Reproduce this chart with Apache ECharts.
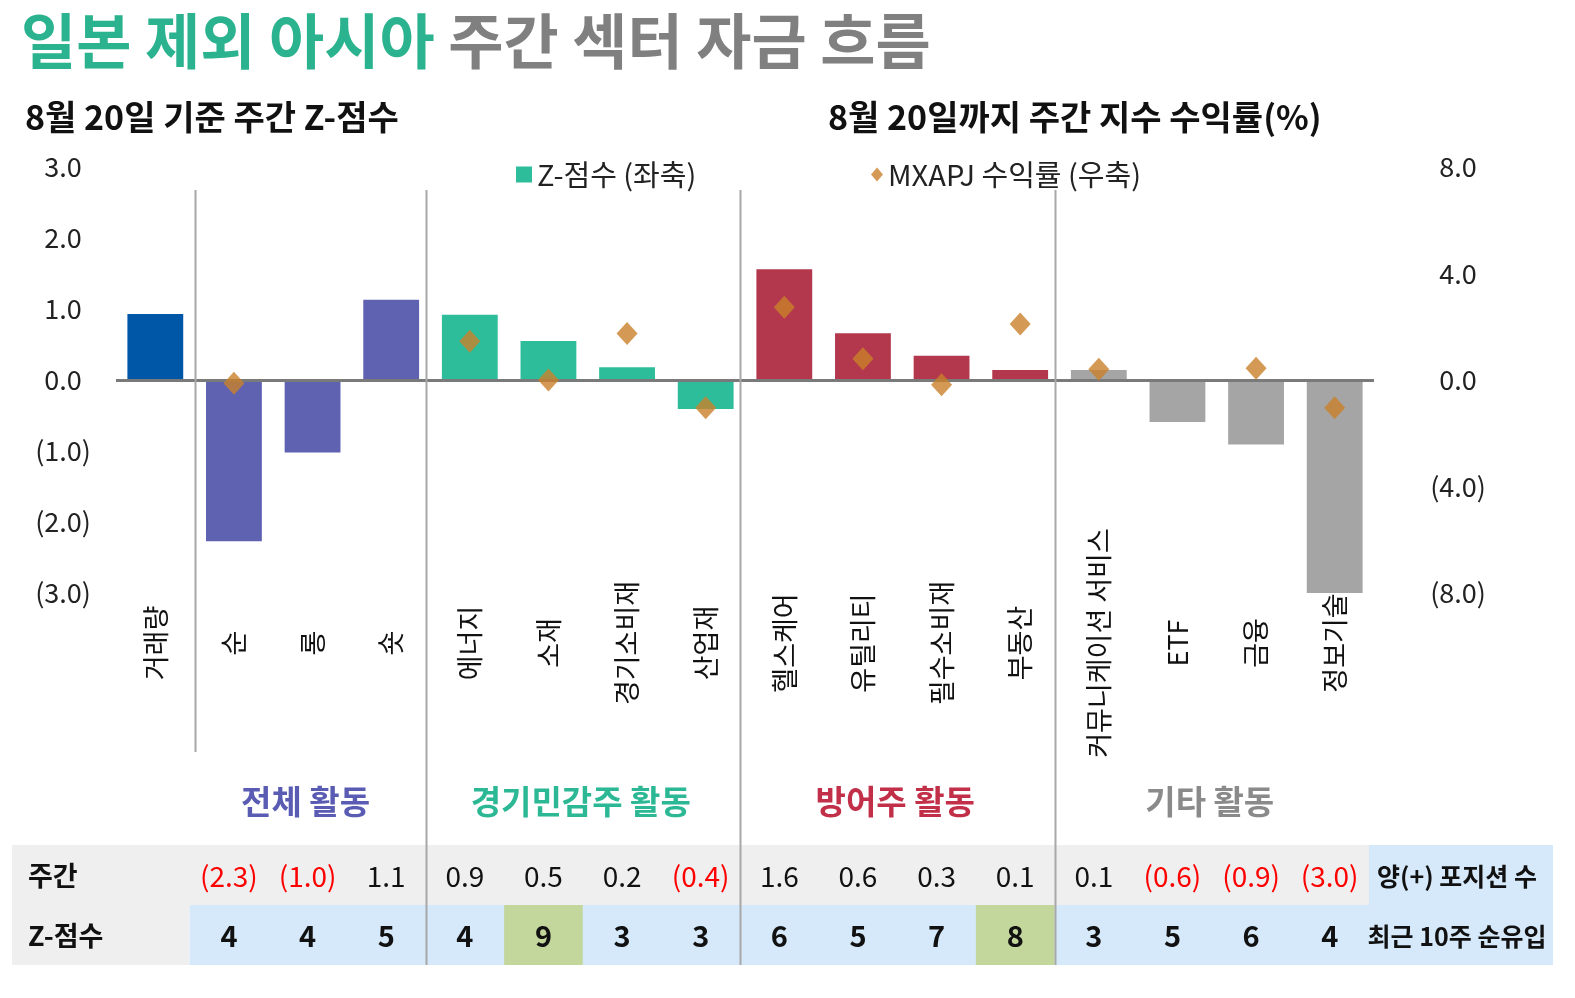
<!DOCTYPE html>
<html><head><meta charset="utf-8">
<script src="https://cdn.jsdelivr.net/npm/echarts@6/dist/echarts.min.js"></script>
<style>html,body{margin:0;padding:0;background:#fff}#c{width:1575px;height:998px}</style>
</head><body><div id="c"></div>
<script>
// ---------- data ----------
const categories = ['거래량','순','롱','숏','에너지','소재','경기소비재','산업재','헬스케어','유틸리티','필수소비재','부동산','커뮤니케이션 서비스','ETF','금융','정보기술'];
const groupOf = [0,1,1,1,2,2,2,2,3,3,3,3,4,4,4,4];
const groupNames = ['', '전체 활동', '경기민감주 활동', '방어주 활동', '기타 활동'];
const zScore = [0.93,-2.27,-1.02,1.13,0.92,0.55,0.18,-0.41,1.56,0.66,0.34,0.14,0.14,-0.59,-0.91,-3.0];
const mxapjReturn = [null,-0.12,null,null,1.46,0.0,1.75,-1.04,2.73,0.80,-0.18,2.10,0.40,null,0.44,-1.04];
const weeklyZ = [null,-2.3,-1.0,1.1,0.9,0.5,0.2,-0.4,1.6,0.6,0.3,0.1,0.1,-0.6,-0.9,-3.0];
const positiveWeeks = [null,4,4,5,4,9,3,3,6,5,7,8,3,5,6,4];
const highlightIdx = [5, 11];
const leftTicks = [-3,-2,-1,0,1,2,3];
const rightTicks = [-8,-4,0,4,8];
const tableRowLabels = ['주간', 'Z-점수'];
const tableSideLabels = ['양(+) 포지션 수', '최근 10주 순유입'];
const legendNames = ['Z-점수 (좌축)', 'MXAPJ 수익률 (우축)'];

// ---------- style ----------
const FONT = '"Noto Sans CJK KR", "Noto Sans", sans-serif';
const groupColors = ['#0057A8', '#5F62B1', '#2DBD9B', '#B3384E', '#A5A5A5'];
const groupLabelColors = ['#000', '#5A5CB4', '#2CB894', '#C22F48', '#8A8A8A'];
const fmt = v => v < 0 ? '(' + Math.abs(v).toFixed(1) + ')' : v.toFixed(1);

const chart = echarts.init(document.getElementById('c'));

const option = {
  animation: false,
  backgroundColor: '#fff',
  textStyle: { fontFamily: FONT },
  title: [
    { text: '{a|일본 제외 아시아 }{b|주간 섹터 자금 흐름}', left: 16, top: 6,
      textStyle: { rich: {
        a: { fontSize: 60, fontWeight: 'bold', color: '#2BB28E', fontFamily: FONT },
        b: { fontSize: 60, fontWeight: 'bold', color: '#808080', fontFamily: FONT } } } },
    { text: '8월 20일 기준 주간 Z-점수', left: 20, top: 95,
      textStyle: { fontSize: 34, fontWeight: 'bold', color: '#111', fontFamily: FONT } },
    { text: '8월 20일까지 주간 지수 수익률(%)', left: 823, top: 95,
      textStyle: { fontSize: 34, fontWeight: 'bold', color: '#111', fontFamily: FONT } }
  ],
  legend: [
    { data: [legendNames[0]], left: 511, top: 155, icon: 'rect', itemWidth: 16, itemHeight: 16,
      textStyle: { fontSize: 29, color: '#222', fontFamily: FONT } },
    { data: [legendNames[1]], left: 866, top: 155, icon: 'diamond', itemWidth: 12, itemHeight: 14,
      textStyle: { fontSize: 29, color: '#222', fontFamily: FONT } }
  ],
  grid: { left: 116, right: 201, top: 167, bottom: 405 },
  xAxis: {
    type: 'category', data: categories,
    axisLine: { show: false }, axisTick: { show: false }, splitLine: { show: false },
    axisLabel: { interval: 0, rotate: 90, align: 'center', verticalAlign: 'middle', margin: 50,
      fontSize: 27, color: '#111', fontFamily: FONT }
  },
  yAxis: [
    { type: 'value', min: leftTicks[0], max: leftTicks[leftTicks.length - 1], interval: leftTicks[1] - leftTicks[0],
      axisLine: { show: false }, axisTick: { show: false }, splitLine: { show: false },
      axisLabel: { formatter: fmt, fontSize: 27, color: '#222', align: 'center', margin: 53, fontFamily: FONT } },
    { type: 'value', position: 'right', min: rightTicks[0], max: rightTicks[rightTicks.length - 1], interval: rightTicks[1] - rightTicks[0],
      axisLine: { show: false }, axisTick: { show: false }, splitLine: { show: false },
      axisLabel: { formatter: fmt, fontSize: 27, color: '#222', align: 'center', margin: 84, fontFamily: FONT } }
  ],
  series: [
    { name: legendNames[0], type: 'bar', barWidth: '71%', yAxisIndex: 0,
      itemStyle: { color: groupColors[2] },
      data: zScore.map((v, i) => ({ value: v, itemStyle: { color: groupColors[groupOf[i]] } })),
      markLine: { silent: true, symbol: 'none', label: { show: false },
        lineStyle: { color: '#7A7A7A', width: 3, type: 'solid' }, data: [{ yAxis: 0 }] }
    },
    { name: legendNames[1], type: 'scatter', yAxisIndex: 1, symbol: 'diamond', symbolSize: [21, 23], z: 5,
      itemStyle: { color: '#C9812A' },
      data: mxapjReturn.map(v => v === null ? '-' : v) }
  ]
};
chart.setOption(option);

// ---------- decorations from axis positions ----------
const xs = categories.map((c, i) => chart.convertToPixel({ xAxisIndex: 0 }, i));
const bw = xs[1] - xs[0];
const yTop = chart.convertToPixel({ yAxisIndex: 0 }, leftTicks[leftTicks.length - 1]);
const DX = -5;
const row1Top = 845, rowH = 60, row2Top = row1Top + rowH, tableBottom = row2Top + rowH;
const tableLeft = 12, tableRight = 1553;
const colStart = i => xs[i] - bw / 2 + DX;
const colEnd = i => xs[i] + bw / 2 + DX;
const g = [];
// table backgrounds
g.push({ type: 'rect', z: 1, shape: { x: tableLeft, y: row1Top, width: colEnd(15) - tableLeft, height: rowH }, style: { fill: '#EFEFEF' } });
g.push({ type: 'rect', z: 1, shape: { x: colEnd(15), y: row1Top, width: tableRight - colEnd(15), height: rowH }, style: { fill: '#D5E9FA' } });
g.push({ type: 'rect', z: 1, shape: { x: tableLeft, y: row2Top, width: colStart(1) - tableLeft, height: rowH }, style: { fill: '#EFEFEF' } });
g.push({ type: 'rect', z: 1, shape: { x: colStart(1), y: row2Top, width: tableRight - colStart(1), height: rowH }, style: { fill: '#D5E9FA' } });
highlightIdx.forEach(i => g.push({ type: 'rect', z: 2, shape: { x: colStart(i), y: row2Top, width: bw, height: rowH }, style: { fill: '#C3D79C' } }));
// separators
const sepIdx = [];
for (let i = 1; i < categories.length; i++) if (groupOf[i] !== groupOf[i - 1]) sepIdx.push(i);
sepIdx.forEach((i, k) => {
  const first = k === 0;
  const x = Math.round(first ? xs[i] - bw / 2 : colStart(i)) + 0.5;
  g.push({ type: 'line', z: 5, shape: { x1: x, y1: yTop + 23, x2: x, y2: first ? 752 : tableBottom }, style: { stroke: '#A8A8A8', lineWidth: 2 } });
});
// group labels
for (let gi = 1; gi < groupNames.length; gi++) {
  const idx = groupOf.map((gg, i) => gg === gi ? i : -1).filter(i => i >= 0);
  const cx = idx.reduce((s, i) => s + xs[i], 0) / idx.length - 7;
  g.push({ type: 'text', z: 10, x: cx, y: 801, style: { text: groupNames[gi], fill: groupLabelColors[gi], font: 'bold 33px ' + FONT, textAlign: 'center', textVerticalAlign: 'middle' } });
}
// table texts
const r1y = row1Top + rowH / 2 + 1, r2y = row2Top + rowH / 2 + 1;
g.push({ type: 'text', z: 10, x: 28, y: r1y, style: { text: tableRowLabels[0], fill: '#111', font: 'bold 27px ' + FONT, textAlign: 'left', textVerticalAlign: 'middle' } });
g.push({ type: 'text', z: 10, x: 28, y: r2y, style: { text: tableRowLabels[1], fill: '#111', font: 'bold 27px ' + FONT, textAlign: 'left', textVerticalAlign: 'middle' } });
const sideX = (colEnd(15) + tableRight) / 2 - 4;
g.push({ type: 'text', z: 10, x: sideX, y: r1y, style: { text: tableSideLabels[0], fill: '#111', font: 'bold 25px ' + FONT, textAlign: 'center', textVerticalAlign: 'middle' } });
g.push({ type: 'text', z: 10, x: sideX, y: r2y, style: { text: tableSideLabels[1], fill: '#111', font: 'bold 25px ' + FONT, textAlign: 'center', textVerticalAlign: 'middle' } });
categories.forEach((c, i) => {
  if (weeklyZ[i] !== null) {
    g.push({ type: 'text', z: 10, x: xs[i] + DX, y: r1y, style: { text: fmt(weeklyZ[i]), fill: weeklyZ[i] < 0 ? '#FF0000' : '#111', font: '28px ' + FONT, textAlign: 'center', textVerticalAlign: 'middle' } });
  }
  if (positiveWeeks[i] !== null) {
    g.push({ type: 'text', z: 10, x: xs[i] + DX, y: r2y, style: { text: String(positiveWeeks[i]), fill: '#111', font: 'bold 29px ' + FONT, textAlign: 'center', textVerticalAlign: 'middle' } });
  }
});
chart.setOption({ graphic: g });
</script>
</body></html>
